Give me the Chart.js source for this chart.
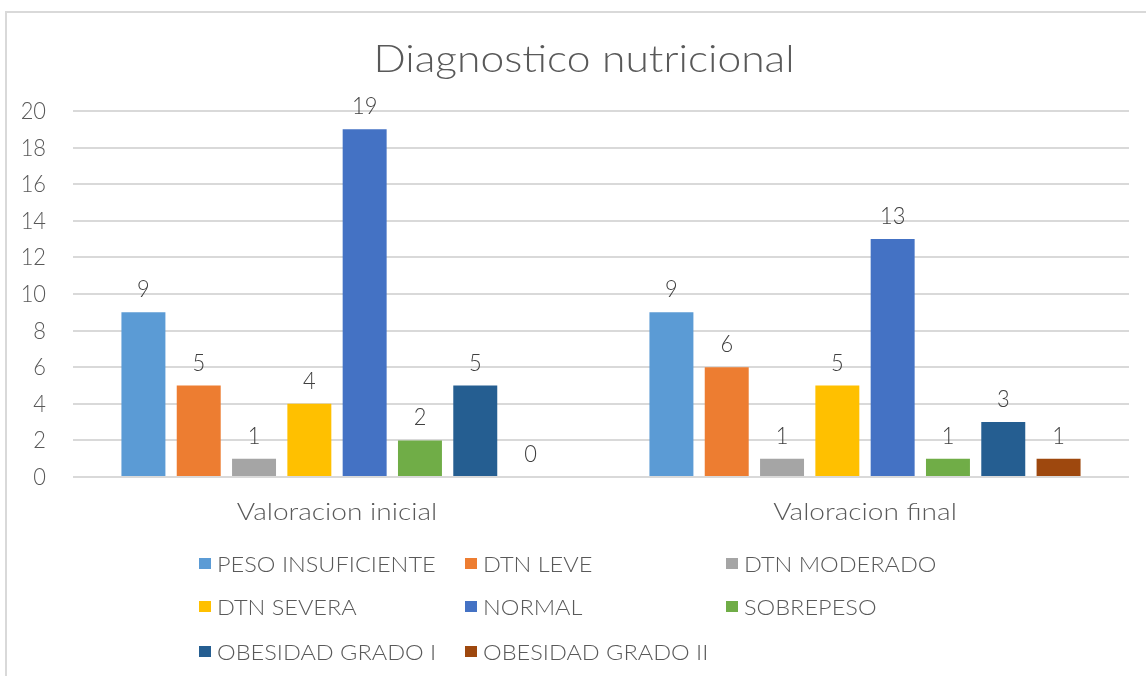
<!DOCTYPE html>
<html>
<head>
<meta charset="utf-8">
<script src="https://cdn.jsdelivr.net/npm/chart.js@4"></script>
<style>
html,body{margin:0;padding:0;background:#fff;}
#wrap{width:1146px;height:676px;position:relative;}
</style>
</head>
<body>
<div id="wrap"><canvas id="c" width="1146" height="676"></canvas></div>
<script>
const categories = ["Valoracion inicial", "Valoracion final"];
const seriesNames = ["PESO INSUFICIENTE", "DTN LEVE", "DTN MODERADO", "DTN SEVERA", "NORMAL", "SOBREPESO", "OBESIDAD GRADO I", "OBESIDAD GRADO II"];
const pesoInsuficiente = [9, 9];
const dtnLeve = [5, 6];
const dtnModerado = [1, 1];
const dtnSevera = [4, 5];
const normal = [19, 13];
const sobrepeso = [2, 1];
const obesidadGradoI = [5, 3];
const obesidadGradoII = [0, 1];
const yTicks = [0, 2, 4, 6, 8, 10, 12, 14, 16, 18, 20];
const chartTitle = "Diagnostico nutricional";

const seriesValues = [pesoInsuficiente, dtnLeve, dtnModerado, dtnSevera, normal, sobrepeso, obesidadGradoI, obesidadGradoII];
const colors = ["#5b9bd5", "#ed7d31", "#a5a5a5", "#ffc000", "#4472c4", "#70ad47", "#255e91", "#9e480e"];

const FONT = "Lato, 'Open Sans', sans-serif";
const TXT = "#595959";

function drawText(ctx, text, x, y, size, align, stretch, color) {
  ctx.save();
  ctx.font = "300 " + size + "px " + FONT;
  ctx.fillStyle = color || TXT;
  ctx.textAlign = align;
  ctx.textBaseline = 'alphabetic';
  ctx.translate(x, y);
  ctx.scale(stretch, 1);
  ctx.fillText(text, 0, 0);
  ctx.restore();
}

const decor = {
  id: 'decor',
  beforeDraw(chart) {
    const ctx = chart.ctx;
    ctx.save();
    ctx.fillStyle = '#fff';
    ctx.fillRect(0, 0, chart.width, chart.height);
    ctx.strokeStyle = '#d9d9d9';
    ctx.lineWidth = 2;
    ctx.beginPath();
    ctx.moveTo(6, chart.height);
    ctx.lineTo(6, 12);
    ctx.lineTo(chart.width, 12);
    ctx.stroke();
    ctx.restore();
  },
  afterDraw(chart) {
    const ctx = chart.ctx;
    const xs = chart.scales.x, ys = chart.scales.y;
    // title
    drawText(ctx, chartTitle, 584, 72, 37, 'center', 1.15);
    // y tick labels
    ys.ticks.forEach((t) => {
      drawText(ctx, String(t.value), 46, ys.getPixelForValue(t.value) + 8, 23, 'right', 0.95);
    });
    // x tick labels
    categories.forEach((c, i) => {
      drawText(ctx, c, xs.getPixelForTick(i), 520, 24, 'center', 1.17);
    });
    // data labels
    chart.data.datasets.forEach((ds, di) => {
      const meta = chart.getDatasetMeta(di);
      meta.data.forEach((bar, i) => {
        drawText(ctx, String(ds.data[i]), bar.x, bar.y - 15, 23, 'center', 0.95, '#404040');
      });
    });
    // legend grid
    const colBox = [199, 465, 726];
    const rowY = [564, 607, 652];
    seriesNames.forEach((name, k) => {
      const c = k % 3, r = Math.floor(k / 3);
      const x = colBox[c], y = rowY[r];
      ctx.fillStyle = colors[k];
      ctx.fillRect(x, y - 6, 12, 11);
      drawText(ctx, name, x + 18, y + 8, 22, 'left', 1.07);
    });
  }
};

new Chart(document.getElementById('c'), {
  type: 'bar',
  data: {
    labels: categories,
    datasets: seriesNames.map((n, k) => ({
      label: n,
      data: seriesValues[k],
      backgroundColor: colors[k],
      borderWidth: 0,
      categoryPercentage: 0.838,
      barPercentage: 0.795
    }))
  },
  options: {
    responsive: false,
    animation: false,
    devicePixelRatio: 1,
    layout: { padding: { left: 73, right: 17, top: 111, bottom: 199 } },
    plugins: { legend: { display: false }, title: { display: false }, tooltip: { enabled: false } },
    scales: {
      x: {
        grid: { display: false, drawTicks: false },
        border: { display: false },
        ticks: { display: false }
      },
      y: {
        min: 0, max: 20,
        afterBuildTicks(axis) { axis.ticks = yTicks.map(v => ({ value: v })); },
        grid: { color: '#d9d9d9', lineWidth: 2, drawTicks: false },
        border: { display: false },
        ticks: { display: false }
      }
    }
  },
  plugins: [decor]
});
</script>
</body>
</html>
